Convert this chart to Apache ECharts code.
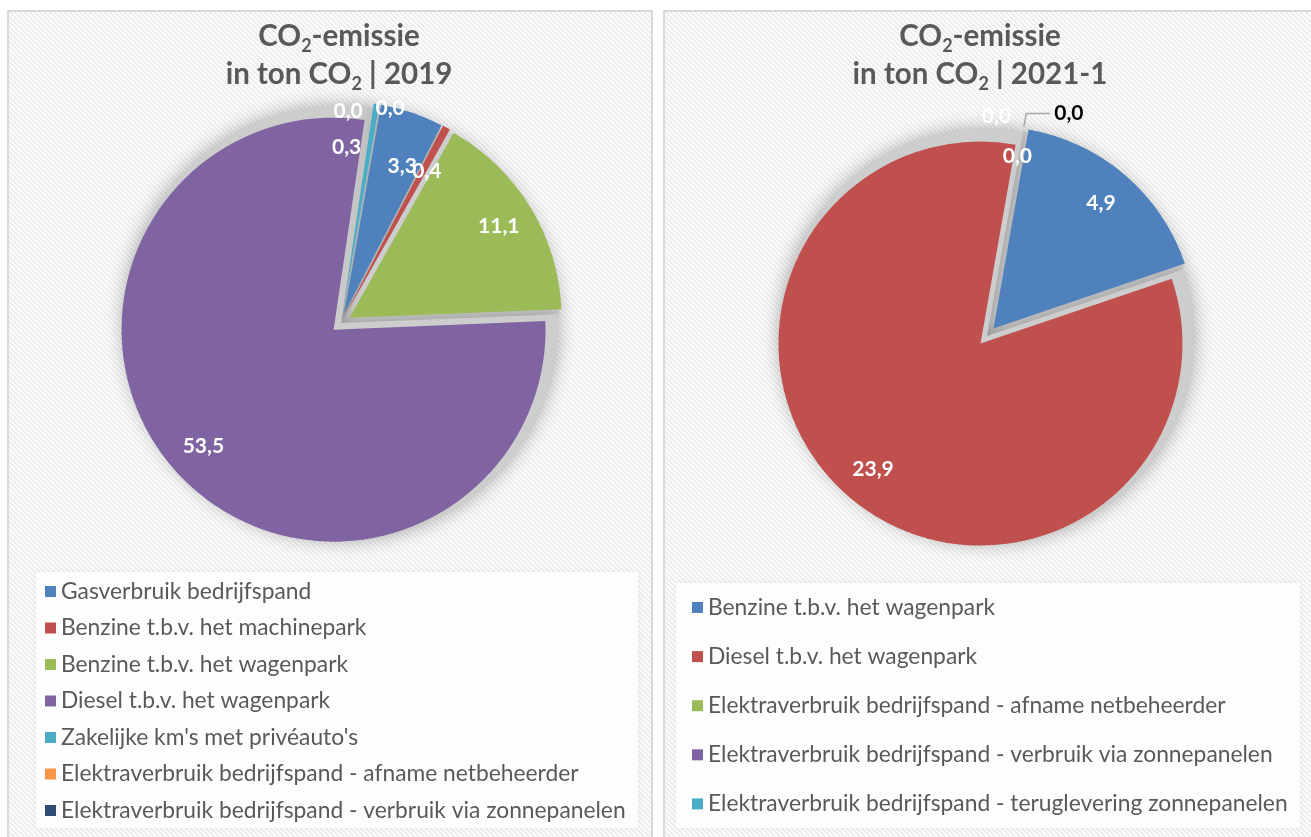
<!DOCTYPE html>
<html><head><meta charset="utf-8">
<script src="https://cdn.jsdelivr.net/npm/echarts@6/dist/echarts.min.js"></script>
<style>
html,body{margin:0;padding:0;background:#fff;width:1311px;height:837px;overflow:hidden}
#c1{position:absolute;left:7px;top:10px;width:646px;height:840px}
#c2{position:absolute;left:663px;top:10px;width:660px;height:840px}
</style></head><body><div id="c1"></div><div id="c2"></div>
<script>
// ---- data ----
const categories2019 = [
  'Gasverbruik bedrijfspand',
  'Benzine t.b.v. het machinepark',
  'Benzine t.b.v. het wagenpark',
  'Diesel t.b.v. het wagenpark',
  "Zakelijke km's met privéauto's",
  'Elektraverbruik bedrijfspand - afname netbeheerder',
  'Elektraverbruik bedrijfspand - verbruik via zonnepanelen'
];
const values2019 = [3.3, 0.4, 11.1, 53.5, 0.3, 0.0, 0.0];
const colors2019 = ['#4F81BD', '#C0504D', '#9BBB59', '#8064A2', '#4BACC6', '#F79646', '#2C4D75'];

const categories2021 = [
  'Benzine t.b.v. het wagenpark',
  'Diesel t.b.v. het wagenpark',
  'Elektraverbruik bedrijfspand - afname netbeheerder',
  'Elektraverbruik bedrijfspand - verbruik via zonnepanelen',
  'Elektraverbruik bedrijfspand - teruglevering zonnepanelen'
];
const values2021 = [4.9, 23.9, 0.0, 0.0, 0.0];
const colors2021 = ['#4F81BD', '#C0504D', '#9BBB59', '#8064A2', '#4BACC6'];

const period2019 = '2019';
const period2021 = '2021-1';

// ---- helpers ----
const FONT = 'Lato';
function makePattern() {
  const c = document.createElement('canvas');
  c.width = c.height = 5;
  const g = c.getContext('2d');
  g.fillStyle = '#fbfbfb'; g.fillRect(0, 0, 5, 5);
  g.fillStyle = '#ebebeb';
  for (let y = 0; y < 5; y++) for (let k = 0; k < 2; k++) g.fillRect((y + k) % 5, y, 1, 1);
  return c;
}
const pattern = makePattern();
const fmt = v => v.toFixed(1).replace('.', ',');

function build(cfg) {
  const data = cfg.cats.map((n, i) => ({ name: n, value: cfg.vals[i], selected: true }));
  const overlayData = cfg.cats.map((n, i) => {
    const d = { name: n, value: cfg.vals[i], selected: true };
    if (cfg.hideInRing.indexOf(i) >= 0) d.label = { show: false };
    return d;
  });
  const mainData = data.map((d, i) => cfg.outsideLabel[i] ? Object.assign({}, d, cfg.outsideLabel[i]) : d);
  return {
    animation: false,
    color: cfg.colors,
    graphic: [
      { type: 'rect', z: -10, silent: true, shape: { x: 1, y: 1, width: cfg.panelW, height: 860 },
        style: { fill: { image: pattern, repeat: 'repeat' }, stroke: '#d9d9d9', lineWidth: 2 } },
      { type: 'rect', z: -9, silent: true, shape: cfg.legendBox,
        style: { fill: '#fdfdfd', shadowBlur: 6, shadowColor: 'rgba(0,0,0,0.06)' } }
    ],
    title: {
      left: cfg.titleX, top: 7, textAlign: 'center', padding: 0,
      text: '{t|CO}{s|2}{t|-emissie}\n{t|in ton CO}{s|2}{t| | ' + cfg.period + '}',
      textStyle: {
        align: 'center',
        rich: {
          t: { fontFamily: FONT, fontWeight: 'bold', fontSize: 29.5, lineHeight: 38, color: '#595959' },
          s: { fontFamily: FONT, fontWeight: 'bold', fontSize: 18, lineHeight: 17, color: '#595959', verticalAlign: 'bottom' }
        }
      }
    },
    legend: {
      orient: 'vertical', left: cfg.legendX, top: cfg.legendY, padding: 0,
      itemGap: cfg.legendGap, itemWidth: 11, itemHeight: 11, icon: 'rect',
      selectedMode: false,
      data: cfg.cats,
      textStyle: { fontFamily: FONT, fontSize: cfg.legendFont, lineHeight: 20, color: '#595959', padding: [0, 0, 0, 0] }
    },
    series: [
      { // main pie
        type: 'pie', z: 3, center: cfg.center, radius: [0, cfg.R], startAngle: 80, clockwise: true,
        selectedMode: 'multiple', selectedOffset: 10, avoidLabelOverlap: false,
        labelLayout: { hideOverlap: false },
        label: { show: false }, labelLine: { show: false },
        itemStyle: { borderWidth: 0 }, emphasis: { disabled: true },
        data: mainData
      },
      { // shadow under pie
        type: 'pie', z: 1, silent: true, center: cfg.center, radius: [0, cfg.R + 6], startAngle: 80,
        label: { show: false }, labelLine: { show: false }, emphasis: { disabled: true },
        itemStyle: { color: '#cdcdcd', borderWidth: 0, shadowBlur: 18, shadowColor: 'rgba(0,0,0,0.30)' },
        data: data.map(d => ({ name: d.name, value: d.value }))
      },
      { // label ring
        type: 'pie', z: 4, silent: true, center: cfg.center, radius: [cfg.R - 70, cfg.R - 10], startAngle: 80,
        selectedMode: 'multiple', selectedOffset: 10, avoidLabelOverlap: false,
        labelLayout: function (p) {
          const t = cfg.labelShift[p.dataIndex];
          return t ? { dx: t[0], dy: t[1], hideOverlap: false } : { hideOverlap: false };
        },
        itemStyle: { color: 'rgba(0,0,0,0)', borderWidth: 0 }, emphasis: { disabled: true },
        label: { show: true, position: 'inside', color: '#ffffff', fontFamily: FONT, fontWeight: 'bold', fontSize: 21,
                 formatter: p => fmt(p.value) },
        labelLine: { show: false },
        data: overlayData
      }
    ]
  };
}

const c1 = echarts.init(document.getElementById('c1'), null, { renderer: 'canvas' });
c1.setOption(build({
  cats: categories2019, vals: values2019, colors: colors2019, period: period2019,
  panelW: 644, center: [334, 313], R: 212, titleX: 332,
  legendX: 38, legendY: 570, legendGap: 13.5, legendFont: 22.8,
  legendBox: { x: 29, y: 562, width: 602, height: 256 },
  hideInRing: [],
  labelShift: { 0: [2, 19], 1: [-2, 11], 4: [-24, 7], 5: [-25, -30], 6: [17, -33] },
  outsideLabel: {}
}));

const c2 = echarts.init(document.getElementById('c2'), null, { renderer: 'canvas' });
c2.setOption(build({
  cats: categories2021, vals: values2021, colors: colors2021, period: period2021,
  panelW: 660, center: [324, 326], R: 202, titleX: 317,
  legendX: 29, legendY: 586, legendGap: 26.1, legendFont: 22.8,
  legendBox: { x: 13, y: 573, width: 624, height: 245 },
  hideInRing: [4],
  labelShift: { 2: [0, -7], 3: [-21, -47] },
  outsideLabel: { 4: {
    label: { show: true, position: 'outside', color: '#000000', fontFamily: FONT, fontWeight: 'bold', fontSize: 21,
             distanceToLabelLine: 4, formatter: p => fmt(p.value) },
    labelLine: { show: true, length: 14, length2: 24, lineStyle: { color: '#a6a6a6', width: 1.5 } }
  } }
}));
</script></body></html>
